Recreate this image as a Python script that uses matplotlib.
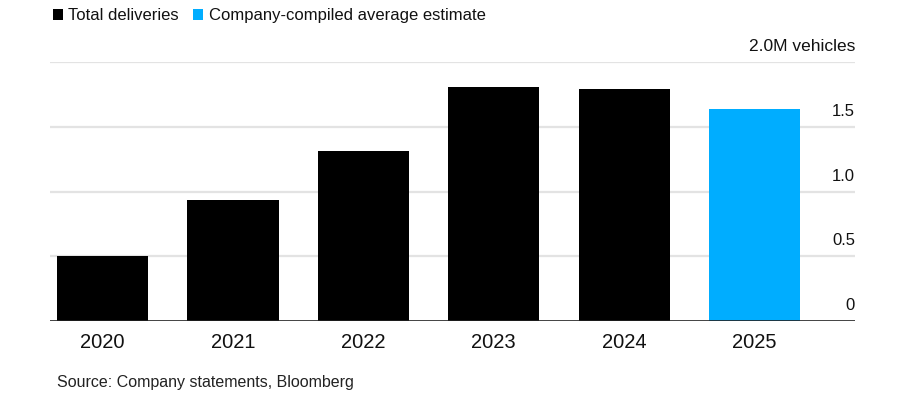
import matplotlib
matplotlib.use("Agg")
import matplotlib.pyplot as plt
from matplotlib.patches import Rectangle
import matplotlib.transforms as mtransforms

years = ["2020", "2021", "2022", "2023", "2024", "2025"]
deliveries = [0.50, 0.936, 1.31, 1.81, 1.79, 1.64]
is_estimate = [False, False, False, False, False, True]
y_ticks = [0, 0.5, 1.0, 1.5, 2.0]
y_tick_labels = ["0", "0.5", "1.0", "1.5", "2.0M vehicles"]
legend_labels = ["Total deliveries", "Company-compiled average estimate"]
source_text = "Source: Company statements, Bloomberg"

BLACK = "#000000"
BLUE = "#00adff"
GRID = "#e3e3e3"

plt.rcParams["font.family"] = ["Liberation Sans", "DejaVu Sans"]

W, H = 900, 410
fig = plt.figure(figsize=(W / 100, H / 100), dpi=100)
ax = fig.add_axes([50 / W, (H - 322) / H, (855 - 50) / W, (322 - 63) / H])

colors = [BLUE if e else BLACK for e in is_estimate]
x = list(range(len(years)))
ax.bar(x, deliveries, width=0.70, color=colors, zorder=3)

ax.set_xlim(-0.403, 5.77)
ax.set_ylim(0, 2.0)

for v in y_ticks[1:]:
    ax.axhline(v, color=GRID, lw=1.6, zorder=1)
ax.axhline(0, color="#222222", lw=1.2, zorder=4)

for s in ax.spines.values():
    s.set_visible(False)
ax.set_yticks([])
ax.set_xticks(x)
ax.set_xticklabels(years, fontsize=14.5, color="#111111")
ax.tick_params(axis="x", length=0, pad=8)

trans = mtransforms.blended_transform_factory(ax.transAxes, ax.transData)
for v, lab in zip(y_ticks, y_tick_labels):
    ax.annotate(lab, xy=(1.0, v), xycoords=trans, xytext=(0, 8.5),
                textcoords="offset points", ha="right", va="baseline",
                fontsize=12.5 if "M" in lab else 12, color="#111111")

# legend
def fx(px):
    return px / W

def fy(py):
    return (H - py) / H

fig.add_artist(Rectangle((fx(53), fy(21)), 10 / W, 11 / H, transform=fig.transFigure,
                         color=BLACK, lw=0))
fig.text(fx(68), fy(15.5), legend_labels[0], ha="left", va="center", fontsize=12, color="#111111")
fig.add_artist(Rectangle((fx(193), fy(21)), 10 / W, 11 / H, transform=fig.transFigure,
                         color=BLUE, lw=0))
fig.text(fx(209), fy(15.5), legend_labels[1], ha="left", va="center", fontsize=12, color="#111111")

fig.text(fx(57), fy(383), source_text, ha="left", va="center", fontsize=11.5, color="#222222")

fig.savefig("out.png", dpi=100)
